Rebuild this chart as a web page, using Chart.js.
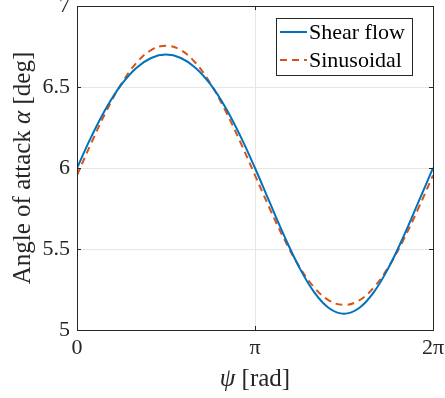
<!DOCTYPE html>
<html>
<head>
<meta charset="utf-8">
<script src="https://cdn.jsdelivr.net/npm/chart.js@4.4.0/dist/chart.umd.min.js"></script>
<style>
  html, body { margin: 0; padding: 0; background: #fff; }
  #wrap { width: 445px; height: 398px; }
</style>
</head>
<body>
<div id="wrap"><canvas id="aoaChart" width="445" height="398"></canvas></div>
<script>
    // azimuth grid, in multiples of pi/12
    const psiSteps = [0, 1, 2, 3, 4, 5, 6, 7, 8, 9, 10, 11, 12, 13, 14, 15, 16, 17, 18, 19, 20, 21, 22, 23, 24];

    // angle of attack [deg]
    const shearFlow = [6.000, 6.200, 6.375, 6.516, 6.618, 6.679, 6.700, 6.679, 6.618, 6.516, 6.375, 6.200,
      6.000, 5.786, 5.575, 5.384, 5.232, 5.134, 5.100, 5.134, 5.232, 5.384, 5.575, 5.786, 6.000];
    const sinusoidal = [5.955, 6.162, 6.355, 6.521, 6.648, 6.728, 6.755, 6.728, 6.648, 6.521, 6.355, 6.162,
      5.955, 5.748, 5.555, 5.389, 5.262, 5.182, 5.155, 5.182, 5.262, 5.389, 5.555, 5.748, 5.955];

    const seriesNames = ["Shear flow", "Sinusoidal"];
    const xTickValues = [0, Math.PI, 2 * Math.PI];
    const xTickLabels = ["0", "π", "2π"];
    const yTickLabels = ["5", "5.5", "6", "6.5", "7"];

    const FONT = "'Liberation Serif', 'Times New Roman', serif";
    const axisColor = "#262626";

    function toPoints(values) {
      return values.map((v, i) => ({ x: psiSteps[i] * Math.PI / 12, y: v }));
    }

    // draw text made of plain and italic pieces, centred on (x, y)
    function drawRich(ctx, parts, x, y, size) {
      let total = 0;
      parts.forEach(p => {
        ctx.font = (p.italic ? "italic " : "") + size + "px " + FONT;
        total += ctx.measureText(p.text).width;
      });
      let cx = x - total / 2;
      ctx.textAlign = "left";
      ctx.textBaseline = "alphabetic";
      parts.forEach(p => {
        ctx.font = (p.italic ? "italic " : "") + size + "px " + FONT;
        ctx.fillText(p.text, cx, y);
        cx += ctx.measureText(p.text).width;
      });
    }

    const matlabLook = {
      id: "matlabLook",
      beforeDraw(chart) {
        const ctx = chart.ctx;
        ctx.save();
        ctx.fillStyle = "#fff";
        ctx.fillRect(0, 0, chart.width, chart.height);
        ctx.restore();
      },
      afterDraw(chart) {
        const ctx = chart.ctx;
        const a = chart.chartArea;
        const xs = chart.scales.x, ys = chart.scales.y;
        ctx.save();

        // box
        ctx.strokeStyle = axisColor;
        ctx.lineWidth = 1;
        ctx.strokeRect(Math.round(a.left) + 0.5, Math.round(a.top) + 0.5,
          Math.round(a.right - a.left), Math.round(a.bottom - a.top));

        // inward ticks on all four sides
        const tl = 4;
        ctx.beginPath();
        xTickValues.forEach(v => {
          const px = Math.round(xs.getPixelForValue(v)) + 0.5;
          ctx.moveTo(px, a.bottom); ctx.lineTo(px, a.bottom - tl);
          ctx.moveTo(px, a.top); ctx.lineTo(px, a.top + tl);
        });
        yTickLabels.forEach(t => {
          const py = Math.round(ys.getPixelForValue(parseFloat(t))) + 0.5;
          ctx.moveTo(a.left, py); ctx.lineTo(a.left + tl, py);
          ctx.moveTo(a.right, py); ctx.lineTo(a.right - tl, py);
        });
        ctx.stroke();

        // legend
        const lx = 276, ly = 18, lw = 136, lh = 57;
        ctx.fillStyle = "#fff";
        ctx.fillRect(lx, ly, lw, lh);
        ctx.strokeStyle = axisColor;
        ctx.strokeRect(lx + 0.5, ly + 0.5, lw, lh);
        chart.data.datasets.forEach((ds, i) => {
          const rowY = ly + 14 + i * 28;
          ctx.strokeStyle = ds.borderColor;
          ctx.lineWidth = ds.borderWidth;
          ctx.setLineDash(ds.borderDash || []);
          ctx.beginPath();
          ctx.moveTo(lx + 4, rowY);
          ctx.lineTo(lx + 31, rowY);
          ctx.stroke();
          ctx.setLineDash([]);
          ctx.fillStyle = "#000";
          ctx.font = "22px " + FONT;
          ctx.textAlign = "left";
          ctx.textBaseline = "alphabetic";
          ctx.fillText(ds.label, lx + 33, rowY + 7);
        });

        // axis titles
        ctx.fillStyle = "#262626";
        drawRich(ctx, [{ text: "ψ", italic: true }, { text: " [rad]" }], (a.left + a.right) / 2, 386, 25);
        ctx.translate(30, 168);
        ctx.rotate(-Math.PI / 2);
        drawRich(ctx, [{ text: "Angle of attack " }, { text: "α", italic: true }, { text: " [deg]" }], 0, 0, 25);

        ctx.restore();
      }
    };

    const ctx = document.getElementById("aoaChart").getContext("2d");
    const chart = new Chart(ctx, {
      type: "line",
      data: {
        datasets: [
          {
            label: seriesNames[0],
            data: toPoints(shearFlow),
            borderColor: "#0072BD",
            borderWidth: 2,
            pointRadius: 0,
            tension: 0.4,
            fill: false
          },
          {
            label: seriesNames[1],
            data: toPoints(sinusoidal),
            borderColor: "#D95319",
            borderWidth: 2,
            borderDash: [7, 5],
            pointRadius: 0,
            tension: 0.4,
            fill: false
          }
        ]
      },
      options: {
        responsive: false,
        animation: false,
        devicePixelRatio: 1,
        layout: { padding: { top: 6, right: 12, left: 0, bottom: 0 } },
        plugins: { legend: { display: false }, tooltip: { enabled: false } },
        scales: {
          x: {
            type: "linear",
            min: 0,
            max: 2 * Math.PI,
            afterBuildTicks: scale => { scale.ticks = xTickValues.map(v => ({ value: v })); },
            afterFit: scale => { scale.height = 68; scale.paddingLeft = 0; scale.paddingRight = 0; },
            ticks: {
              autoSkip: false,
              maxRotation: 0,
              padding: 5,
              color: "#262626",
              font: { family: FONT, size: 22 },
              callback: (v, i) => xTickLabels[i]
            },
            grid: { color: "#e6e6e6", drawTicks: false },
            border: { display: false }
          },
          y: {
            min: 5,
            max: 7,
            afterBuildTicks: scale => { scale.ticks = yTickLabels.map(t => ({ value: parseFloat(t) })); },
            afterFit: scale => { scale.width = 77; scale.paddingTop = 0; scale.paddingBottom = 0; },
            ticks: {
              padding: 7,
              color: "#262626",
              font: { family: FONT, size: 22 },
              callback: (v, i) => yTickLabels[i]
            },
            grid: { color: "#e6e6e6", drawTicks: false },
            border: { display: false }
          }
        }
      },
      plugins: [matlabLook]
    });
</script>
</body>
</html>
